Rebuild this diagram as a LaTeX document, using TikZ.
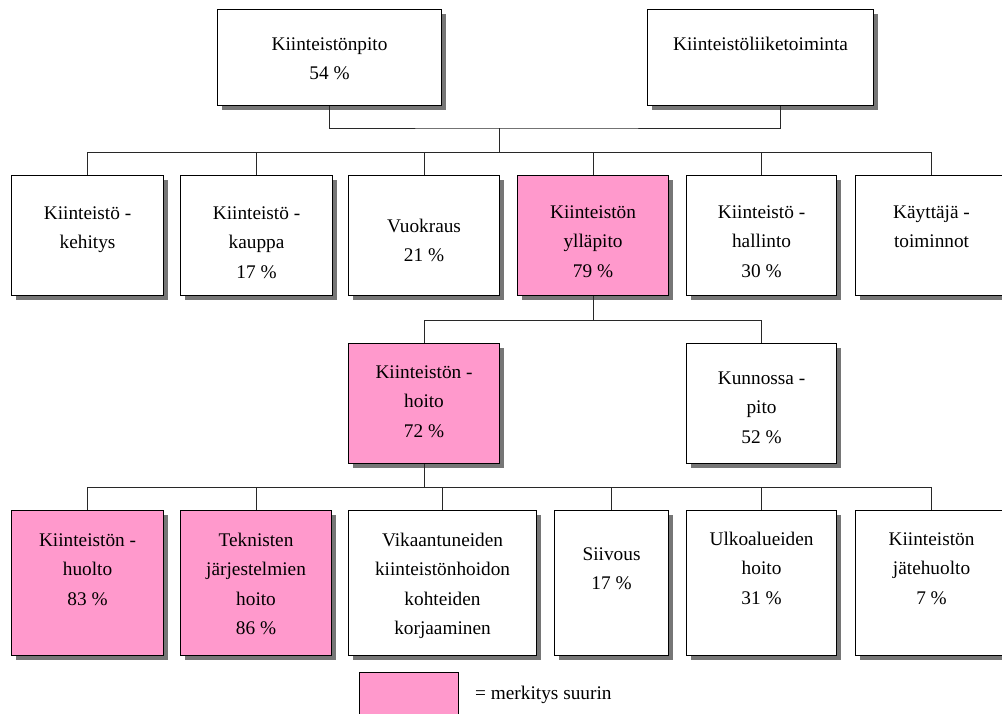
\documentclass[tikz,border=0pt]{standalone}
\usepackage{fontspec}
\setmainfont{Liberation Serif}
\usetikzlibrary{shadows}

\definecolor{hlpink}{RGB}{255,153,204}
\definecolor{shadowgray}{RGB}{118,118,118}
\definecolor{linkgray}{RGB}{40,40,40}

% stacked, centred text lines; the baseline is that of the first line
\newcommand\boxlines[1]{\begin{tabular}[t]{@{}c@{}}#1\end{tabular}}

\tikzset{
  unit/.style={rectangle, draw=black, line width=1.1pt, fill=white, inner sep=0pt,
    anchor=north west,
    drop shadow={shadow xshift=4pt, shadow yshift=-4pt, fill=shadowgray, opacity=1}},
  hl/.style={unit, fill=hlpink},
  txt/.style={anchor=base, inner sep=0pt, font=\fontsize{19.3}{29.5}\selectfont},
  link/.style={draw=linkgray, line width=1pt},
}

\begin{document}
\begin{tikzpicture}[x=1pt, y=-1pt]
\useasboundingbox (0,0) rectangle (1002,713);
\fill[white] (0,0) rectangle (1002,713);

% ---- top level
\node[unit, minimum width=224pt, minimum height=96pt] (pito) at (217,9) {};
\node[unit, minimum width=226pt, minimum height=96pt] (liike) at (647,9) {};
\node[txt] at ([yshift=-41pt]pito.north) {\boxlines{Kiinteistönpito\\54 \%}};
\node[txt] at ([yshift=-41pt]liike.north) {\boxlines{Kiinteistöliiketoiminta}};

% ---- second level
\node[unit, minimum width=152pt, minimum height=120pt] (kehitys)  at (11,175) {};
\node[unit, minimum width=152pt, minimum height=120pt] (kauppa)   at (180,175) {};
\node[unit, minimum width=151pt, minimum height=120pt] (vuokraus) at (348,175) {};
\node[hl,   minimum width=151pt, minimum height=120pt] (yllapito) at (517,175) {};
\node[unit, minimum width=150pt, minimum height=120pt] (hallinto) at (686,175) {};
\node[unit, minimum width=152pt, minimum height=120pt] (kayttaja) at (855,175) {};

\node[txt] at ([yshift=-44pt]kehitys.north)  {\boxlines{Kiinteistö -\\kehitys}};
\node[txt] at ([yshift=-44pt]kauppa.north)   {\boxlines{Kiinteistö -\\kauppa\\17 \%}};
\node[txt] at ([yshift=-57pt]vuokraus.north) {\boxlines{Vuokraus\\21 \%}};
\node[txt] at ([yshift=-43pt]yllapito.north) {\boxlines{Kiinteistön\\ylläpito\\79 \%}};
\node[txt] at ([yshift=-43pt]hallinto.north) {\boxlines{Kiinteistö -\\hallinto\\30 \%}};
\node[txt] at ([yshift=-43pt]kayttaja.north) {\boxlines{Käyttäjä -\\toiminnot}};

% ---- third level
\node[hl,   minimum width=151pt, minimum height=120pt] (hoito)    at (348,343) {};
\node[unit, minimum width=150pt, minimum height=120pt] (kunnossa) at (686,343) {};
\node[txt] at ([yshift=-35pt]hoito.north)    {\boxlines{Kiinteistön -\\hoito\\72 \%}};
\node[txt] at ([yshift=-41pt]kunnossa.north) {\boxlines{Kunnossa -\\pito\\52 \%}};

% ---- fourth level
\node[hl,   minimum width=152pt, minimum height=145pt] (huolto)   at (11,510) {};
\node[hl,   minimum width=151pt, minimum height=145pt] (tekniset) at (180,510) {};
\node[unit, minimum width=188pt, minimum height=145pt] (vika)     at (348,510) {};
\node[unit, minimum width=114pt, minimum height=145pt] (siivous)  at (554,510) {};
\node[unit, minimum width=150pt, minimum height=145pt] (ulko)     at (686,510) {};
\node[unit, minimum width=152pt, minimum height=145pt] (jate)     at (855,510) {};

\node[txt] at ([yshift=-36pt]huolto.north)   {\boxlines{Kiinteistön -\\huolto\\83 \%}};
\node[txt] at ([yshift=-36pt]tekniset.north) {\boxlines{Teknisten\\järjestelmien\\hoito\\86 \%}};
\node[txt] at ([yshift=-36pt]vika.north)     {\boxlines{Vikaantuneiden\\kiinteistönhoidon\\kohteiden\\korjaaminen}};
\node[txt] at ([yshift=-50pt]siivous.north)  {\boxlines{Siivous\\17 \%}};
\node[txt] at ([yshift=-35pt]ulko.north)     {\boxlines{Ulkoalueiden\\hoito\\31 \%}};
\node[txt] at ([yshift=-35pt]jate.north)     {\boxlines{Kiinteistön\\jätehuolto\\7 \%}};

% ---- connectors
\coordinate (j1) at (499,128);
\coordinate (j2) at (499,152);
\draw[link] (pito.south) |- (j1) -| ([xshift=20pt]liike.south);
\draw[link] (j1) -- (j2);
\foreach \n in {kehitys,kauppa,vuokraus,yllapito,hallinto,kayttaja}
  \draw[link] (j2) -| (\n.north);

\coordinate (j3) at ([yshift=-24pt]yllapito.south);
\draw[link] (yllapito.south) -- (j3);
\foreach \n in {hoito,kunnossa}
  \draw[link] (j3) -| (\n.north);

\coordinate (j4) at ([yshift=-23pt]hoito.south);
\draw[link] (hoito.south) -- (j4);
\foreach \n in {huolto,tekniset,vika,siivous,ulko,jate}
  \draw[link] (j4) -| (\n.north);

% ---- legend
\node[rectangle, draw=black, line width=1pt, fill=hlpink, inner sep=0pt, anchor=north west,
      minimum width=99pt, minimum height=48pt] (legend) at (359,672) {};
\node[txt, anchor=base west] (legendtxt) at (475,699) {= merkitys suurin};
\end{tikzpicture}
\end{document}
